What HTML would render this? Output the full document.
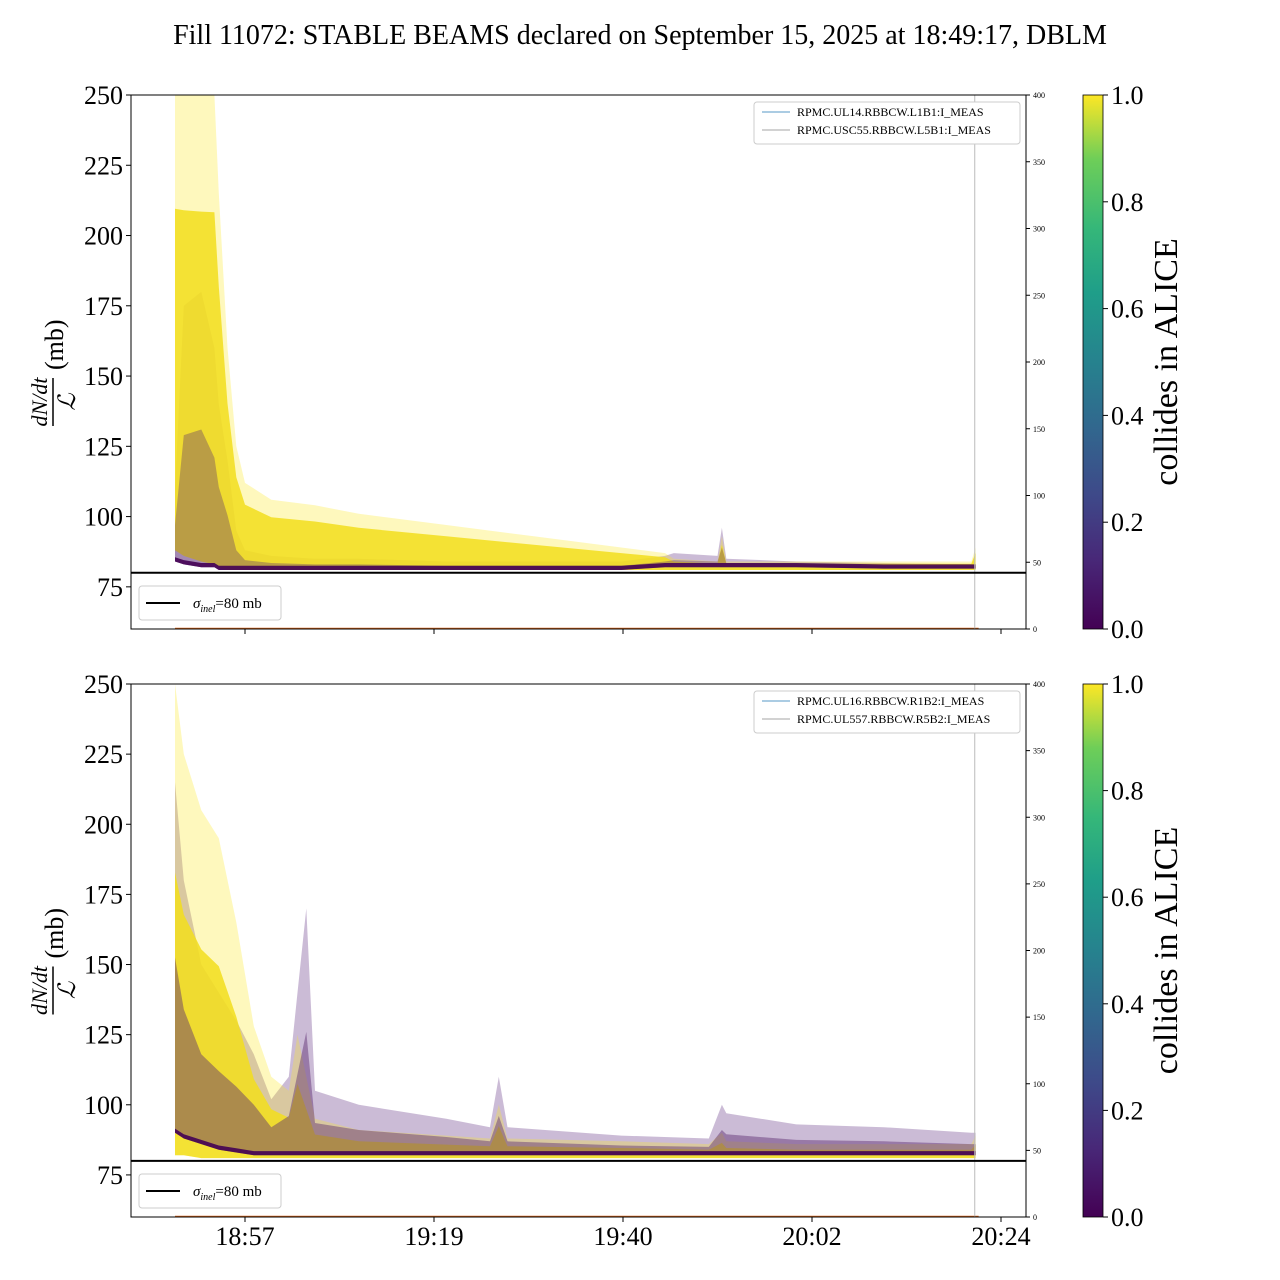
<!DOCTYPE html>
<html><head><meta charset="utf-8"><style>
html,body{margin:0;padding:0;background:#fff;}
svg{display:block;font-family:"Liberation Serif","DejaVu Serif",serif;}
</style></head><body>
<svg id="chart" width="1280" height="1280" viewBox="0 0 1280 1280" xmlns="http://www.w3.org/2000/svg">
<defs>
<linearGradient id="viridis" x1="0" y1="1" x2="0" y2="0">
<stop offset="0" stop-color="#440154"/><stop offset="0.13" stop-color="#482878"/><stop offset="0.25" stop-color="#3e4989"/><stop offset="0.38" stop-color="#31688e"/><stop offset="0.5" stop-color="#26828e"/><stop offset="0.63" stop-color="#1f9e89"/><stop offset="0.75" stop-color="#35b779"/><stop offset="0.88" stop-color="#6ece58"/><stop offset="1" stop-color="#fde725"/>
</linearGradient>
</defs>
<text x="640" y="44" font-size="28" text-anchor="middle">Fill 11072: STABLE BEAMS declared on September 15, 2025 at 18:49:17, DBLM</text>
<g id="panels"></g>
</svg>
<script>
// ---- data (minutes after 18:00, values in mb) ----
const topTimes   = [49, 50, 52, 53.5, 54, 55, 56, 57, 60, 65, 70, 80, 90, 100, 105, 106, 111, 111.5, 112, 120, 130, 140, 140.5];
const topYellowHi= [250,250,250,250, 215,160,125,112,106,104,101, 97, 93, 89, 87, 85, 84, 93, 84, 84, 84, 84, 89];
const topYellowLo= [88, 86, 84, 83, 82, 81, 81, 81, 81, 81, 81, 81, 81, 81, 81, 81, 81, 81, 81, 81, 81, 81, 81];
const topPurpleHi= [110,175,180,160,140,120,95, 88, 86, 85, 85, 84, 84, 84, 86, 87, 86, 96, 85, 84, 83.5, 83, 83];
const topPurpleLo= [84, 83, 82, 82, 81, 81, 81, 81, 81, 81, 81, 81, 81, 81, 82, 82, 82, 82, 82, 82, 81.5, 81.5, 81.5];
const botTimes   = [49, 50, 52, 54, 56, 58, 60, 62, 63, 64, 65, 70, 80, 85, 86, 87, 100, 110, 111.5, 112, 120, 130, 140, 140.5];
const botYellowHi= [250,225,205,195,165,128,110,105,125,110,95, 91, 89, 88, 100, 88, 87, 86, 90, 87, 86, 86, 86, 89];
const botYellowLo= [82, 82, 81, 81, 81, 81, 81, 81, 81, 81, 81, 81, 81, 81, 81, 81, 81, 81, 81, 81, 81, 81, 81, 81];
const botPurpleHi= [215,180,150,140,130,118,102,110,140,170,105,100, 95, 92, 110, 92, 89, 88, 100, 97, 93, 92, 90, 90];
const botPurpleLo= [90, 88, 86, 84, 83, 82, 82, 82, 82, 82, 82, 82, 82, 82, 82, 82, 82, 82, 82, 82, 82, 82, 82, 82];
const xTickLabels= ["18:57","19:19","19:40","20:02","20:24"];
const xTickTimes = [57, 78.6, 100.2, 121.8, 143.4];
const yTicks     = [75,100,125,150,175,200,225,250];
const rTicks     = [0,50,100,150,200,250,300,350,400];
const cbTicks    = [0.0,0.2,0.4,0.6,0.8,1.0];
const sigmaInel  = 80;
const legendTop  = ["RPMC.UL14.RBBCW.L1B1:I_MEAS","RPMC.USC55.RBBCW.L5B1:I_MEAS"];
const legendBot  = ["RPMC.UL16.RBBCW.R1B2:I_MEAS","RPMC.UL557.RBBCW.R5B2:I_MEAS"];
const vlineTime  = 140.4;

const NS="http://www.w3.org/2000/svg";
const root=document.getElementById('panels');
function mk(tag,attrs,parent,text){const e=document.createElementNS(NS,tag);for(const k in attrs)e.setAttribute(k,attrs[k]);if(text!==undefined)e.textContent=text;(parent||root).appendChild(e);return e;}
const X0=131,X1=1026;
const xs=t=>245+(t-57)*8.75;

function panel(top,bot,times,yH,yL,pH,pL,legend,name,showX,coreFrac,purpleOp){
  const ys=v=>bot-(v-60)*(bot-top)/190;
  const rs=v=>bot-v*(bot-top)/400;
  const g=mk('g',{});
  
  
  const clip=mk('clipPath',{id:'clip'+name},g);mk('rect',{x:X0,y:top,width:X1-X0,height:bot-top},clip);
  const cg=mk('g',{'clip-path':'url(#clip'+name+')'},g);
  function band2(hi,lo,color,op,nm){
    let d='M'+times.map((t,i)=>xs(t).toFixed(1)+','+ys(hi[i]).toFixed(1)).join('L');
    for(let i=times.length-1;i>=0;i--)d+='L'+xs(times[i]).toFixed(1)+','+ys(lo[i]).toFixed(1);
    const p=mk('path',{d:d+'Z',fill:color,'fill-opacity':op},cg);
    
    
  }
  band2(pH,pL,'#6a3d8a',0.35,'purple-envelope');
  band2(yH,yL,'#fde725',0.3,'yellow-envelope');
  const mid=yH.map((v,i)=>yL[i]+(v-yL[i])*coreFrac);
  band2(mid,yL,'#f2de1c',0.85,'yellow-core');
  const pmid=pH.map((v,i)=>pL[i]+(v-pL[i])*0.5);
  band2(pmid,pL,'#5a2a6e',purpleOp,'purple-mid');
  const core=pL.map((v,i)=>v+1.5);
  band2(core,pL,'#440154',0.9,'purple-core');
  const ob=mk('line',{x1:xs(times[0]),x2:xs(times[times.length-1])+3,y1:rs(0.5),y2:rs(0.5),stroke:'#d9661a','stroke-width':1.2},cg);
  
  
  const vl=mk('line',{x1:xs(vlineTime),x2:xs(vlineTime),y1:top,y2:bot,stroke:'#bbb','stroke-width':1},g);
  
  
  const sl=mk('line',{x1:X0,x2:X1,y1:ys(sigmaInel),y2:ys(sigmaInel),stroke:'#000','stroke-width':2},g);
  
  
  const fr=mk('rect',{x:X0,y:top,width:X1-X0,height:bot-top,fill:'none',stroke:'#000','stroke-width':1},g);
  
  
  yTicks.forEach(v=>{const y=ys(v);mk('line',{x1:X0-5,x2:X0,y1:y,y2:y,stroke:'#000'},g);
    const t=mk('text',{x:X0-8,y:y+9,'font-size':26,'text-anchor':'end'},g,String(v));
    
    });
  rTicks.forEach(v=>{const y=rs(v);mk('line',{x1:X1,x2:X1+4,y1:y,y2:y,stroke:'#000'},g);
    const t=mk('text',{x:X1+7,y:y+3,'font-size':8},g,String(v));
    
    });
  xTickTimes.forEach((tt,i)=>{const x=xs(tt);mk('line',{x1:x,x2:x,y1:bot,y2:bot+5,stroke:'#000'},g);
    if(showX){const t=mk('text',{x:x,y:bot+28,'font-size':26,'text-anchor':'middle'},g,xTickLabels[i]);
    
    }});
  const cy=(top+bot)/2;
  const lg=mk('g',{transform:'translate(55,'+cy+') rotate(-90)'},g);
  
  
  mk('text',{x:-40,y:-8,'font-size':22,'font-style':'italic','text-anchor':'middle'},lg,'dN/dt');
  mk('line',{x1:-64,x2:-16,y1:-2,y2:-2,stroke:'#000','stroke-width':1.5},lg);
  mk('text',{x:-40,y:20,'font-size':24,'font-style':'italic','text-anchor':'middle'},lg,'ℒ');
  mk('text',{x:-8,y:8,'font-size':26},lg,'(mb)');
  const L=mk('g',{},g);
  
  
  mk('rect',{x:754,y:top+7,width:266,height:42,rx:3,fill:'#fff',stroke:'#ccc'},L);
  mk('line',{x1:762,x2:790,y1:top+17,y2:top+17,stroke:'#1f77b4','stroke-width':0.8},L);
  mk('line',{x1:762,x2:790,y1:top+35,y2:top+35,stroke:'#888','stroke-width':0.8},L);
  legend.forEach((s,i)=>{const t=mk('text',{x:797,y:top+21+i*18,'font-size':12},L,s);
    
    });
  const S=mk('g',{},g);
  
  
  mk('rect',{x:139,y:bot-43,width:142,height:34,rx:3,fill:'#fff',stroke:'#ccc'},S);
  mk('line',{x1:146,x2:180,y1:bot-26,y2:bot-26,stroke:'#000','stroke-width':2},S);
  const st=mk('text',{x:193,y:bot-21,'font-size':15},S);
  mk('tspan',{'font-style':'italic'},st,'σ');
  mk('tspan',{'font-style':'italic','font-size':10,dy:4},st,'inel');
  mk('tspan',{dy:-4},st,'=80 mb');
  const C=mk('g',{},g);
  
  
  mk('rect',{x:1083,y:top,width:20,height:bot-top,fill:'url(#viridis)',stroke:'#000','stroke-width':0.8},C);
  cbTicks.forEach(v=>{const y=bot-v*(bot-top);mk('line',{x1:1103,x2:1108,y1:y,y2:y,stroke:'#000'},C);
    const t=mk('text',{x:1111,y:y+9,'font-size':26},C,v.toFixed(1));
    
    });
  const ct=mk('text',{x:0,y:0,'font-size':34,'text-anchor':'middle',transform:'translate(1177,'+cy+') rotate(-90)'},C,'collides in ALICE');
  
  
}
panel(95,629,topTimes,topYellowHi,topYellowLo,topPurpleHi,topPurpleLo,legendTop,'beam1-panel',false,0.75,0.35);
panel(684,1217,botTimes,botYellowHi,botYellowLo,botPurpleHi,botPurpleLo,legendBot,'beam2-panel',true,0.6,0.45);
</script>
</body></html>
